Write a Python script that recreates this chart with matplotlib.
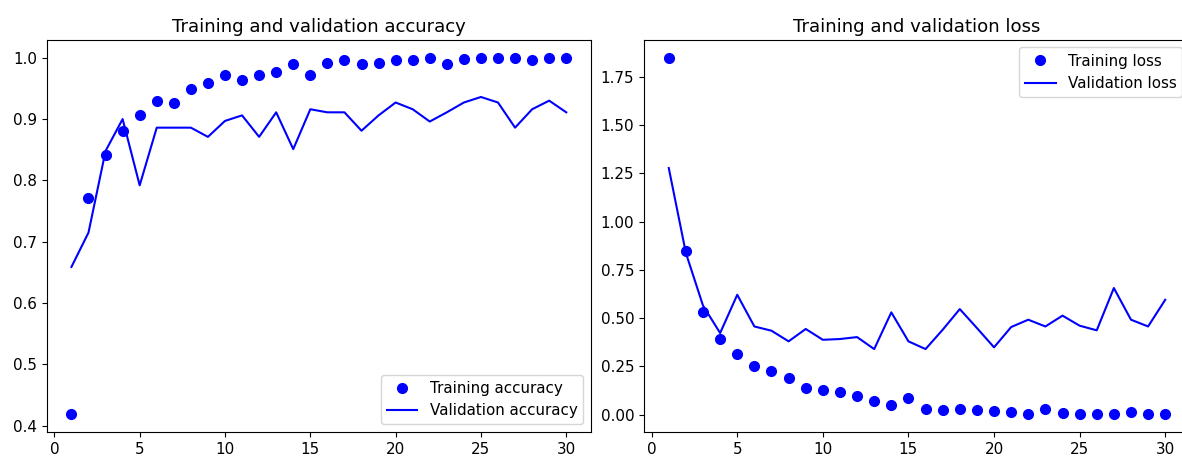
import matplotlib
matplotlib.use('Agg')
import matplotlib.pyplot as plt

epochs = list(range(1, 31))
acc = [0.419, 0.771, 0.842, 0.881, 0.906, 0.930, 0.927, 0.949, 0.958, 0.972,
       0.964, 0.972, 0.977, 0.989, 0.972, 0.992, 0.996, 0.990, 0.992, 0.996,
       0.997, 1.000, 0.990, 0.998, 1.000, 1.000, 1.000, 0.996, 1.000, 1.000]
val_acc = [0.659, 0.715, 0.848, 0.900, 0.792, 0.886, 0.886, 0.886, 0.871, 0.897,
           0.906, 0.871, 0.911, 0.851, 0.916, 0.911, 0.911, 0.881, 0.906, 0.927,
           0.916, 0.896, 0.911, 0.927, 0.936, 0.927, 0.886, 0.916, 0.930, 0.911]
loss = [1.848, 0.846, 0.530, 0.393, 0.312, 0.250, 0.228, 0.190, 0.140, 0.129,
        0.116, 0.098, 0.069, 0.048, 0.088, 0.031, 0.024, 0.031, 0.024, 0.019,
        0.014, 0.003, 0.029, 0.009, 0.005, 0.005, 0.005, 0.014, 0.005, 0.005]
val_loss = [1.277, 0.837, 0.565, 0.423, 0.621, 0.457, 0.435, 0.380, 0.444, 0.388,
            0.392, 0.402, 0.340, 0.530, 0.380, 0.340, 0.440, 0.547, 0.449, 0.349,
            0.454, 0.492, 0.457, 0.513, 0.461, 0.437, 0.656, 0.492, 0.457, 0.595]

plt.rcParams['font.size'] = 10.9

fig = plt.figure(figsize=(11.82, 4.57), dpi=100)
ax1 = fig.add_axes([0.0395, 0.0547, 0.4605, 0.858])
ax2 = fig.add_axes([0.5448, 0.0547, 0.4620, 0.858])  # bord droit coupé comme l'original

ax1.plot(epochs, acc, 'bo', markersize=7, label='Training accuracy')
ax1.plot(epochs, val_acc, 'b', label='Validation accuracy')
ax1.set_title('Training and validation accuracy'); ax1.legend(loc='lower right')

ax2.plot(epochs, loss, 'bo', markersize=7, label='Training loss')
ax2.plot(epochs, val_loss, 'b', label='Validation loss')
ax2.set_title('Training and validation loss'); ax2.legend(loc='upper right')

fig.savefig('out.png', dpi=100)
